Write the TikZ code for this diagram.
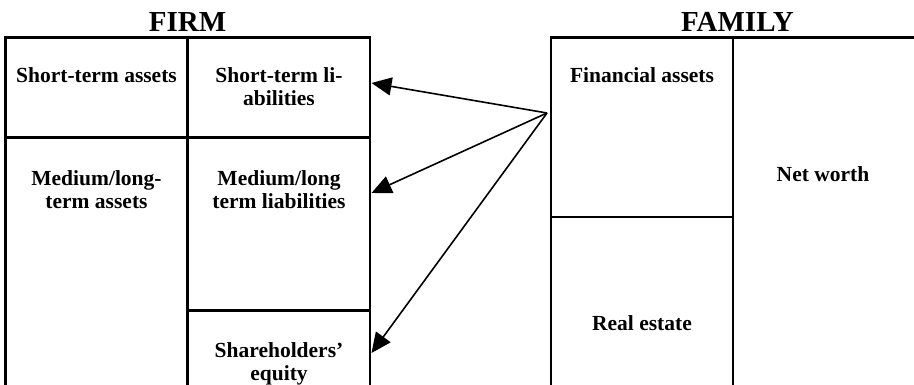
\documentclass[tikz,border=0pt]{standalone}
\usepackage{fontspec}
\setmainfont{Liberation Serif}
\usetikzlibrary{arrows.meta}

\tikzset{
  frame/.style={line width=2.4pt, line cap=rect},
  title/.style={font=\fontsize{29}{32}\selectfont\bfseries, anchor=base, inner sep=0pt},
  % multi-line cells are anchored at the baseline of their last line
  cell/.style={font=\fontsize{21.5}{23}\selectfont\bfseries, anchor=base, align=center, inner sep=0pt},
  link/.style={line width=1.6pt, -{Triangle[length=20pt, width=18pt]}}
}

\begin{document}
\begin{tikzpicture}[x=1pt, y=-1pt]
  \clip (0,0) rectangle (914,385);

  % balance sheet of the firm
  \draw[frame] (5.5,395) -- (5.5,37.5) -- (370,37.5) -- (370,395);
  \draw[frame] (187.5,37.5) -- (187.5,395);
  \draw[frame] (5.5,137.5) -- (370,137.5);
  \draw[frame] (187.5,310.5) -- (370,310.5);

  % balance sheet of the family
  \draw[frame] (551,395) -- (551,37.5) -- (925,37.5);
  \draw[frame] (733,37.5) -- (733,395);
  \draw[frame] (551,217) -- (733,217);

  % headings
  \node[title] (firm) at (187.5,31.7) {FIRM};
  \node[title] (family) at (737.5,31.7) {FAMILY};

  % firm cells
  \node[cell] (sta) at (96.5,82.5) {Short-term assets};
  \node[cell] (stl) at (279,106) {Short-term li-\\abilities};
  \node[cell] (mla) at (96.5,209) {Medium/long-\\term assets};
  \node[cell] (mll) at (279,209) {Medium/long\\term liabilities};
  \node[cell] (eq) at (279,380.5) {Shareholders’\\equity};

  % family cells
  \node[cell] (fin) at (642,82.5) {Financial assets};
  \node[cell] (nw) at (823,181.5) {Net worth};
  \node[cell] (re) at (642,330) {Real estate};

  % flows from the family's financial assets to the firm's liabilities
  \coordinate (src) at (547,113);
  \coordinate (tstl) at (371.5,83);
  \coordinate (tmll) at (371.5,193);
  \coordinate (teq) at (371.5,353);
  \draw[link] (src) -- (tstl);
  \draw[link] (src) -- (tmll);
  \draw[link] (src) -- (teq);
\end{tikzpicture}
\end{document}
